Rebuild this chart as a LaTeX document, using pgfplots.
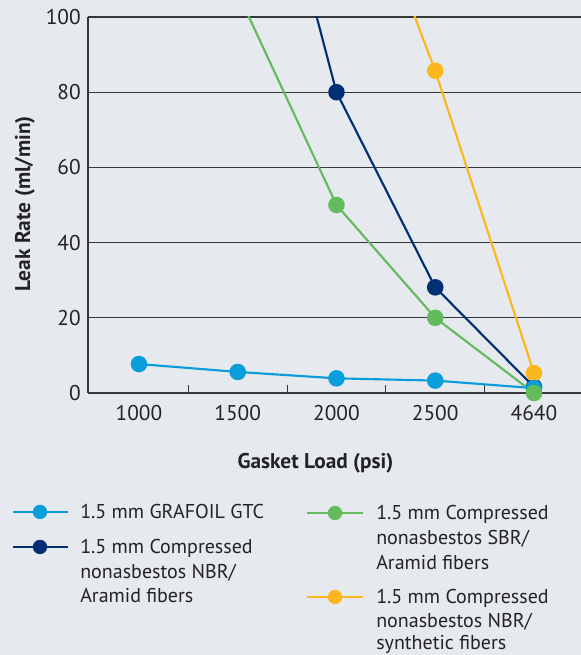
\documentclass[border=0pt]{standalone}
\usepackage{fontspec}
\setmainfont{PT Sans}
\usepackage{pgfplots}
\pgfplotsset{compat=1.18}

\definecolor{bgc}{RGB}{230,233,237}
\definecolor{txt}{RGB}{35,35,35}
\definecolor{gridc}{RGB}{55,55,55}
\definecolor{cblue}{RGB}{10,157,219}
\definecolor{cnavy}{RGB}{0,48,115}
\definecolor{cgreen}{RGB}{99,187,94}
\definecolor{corange}{RGB}{253,183,30}

\newcommand{\chartfont}{\fontsize{16bp}{18.4bp}\selectfont}
\newcommand{\legfont}{\fontsize{15bp}{18bp}\selectfont}

\begin{document}
\begin{tikzpicture}[font=\chartfont, text=txt]
  % background, in pixel units (y down)
  \begin{scope}[x=0.75bp, y=-0.75bp, yshift=491.25bp]
    \fill[bgc] (0,0) rectangle (581,655);
  \end{scope}
  \clip (0,0) rectangle (435.75bp,491.25bp);

  \begin{axis}[
    scale only axis,
    width=369.75bp, height=282bp,
    at={(66bp,196.5bp)}, anchor=south west,
    xmin=-0.516, xmax=4.476,
    ymin=0, ymax=100,
    axis x line*=bottom, axis y line*=left,
    axis line style={gridc, line width=0.8bp},
    xtick={0,1,2,3,4},
    xticklabels={1000,1500,2000,2500,4640},
    minor xtick={0.5,1.5,2.5,3.5},
    tick align=inside,
    major tick length=0pt,
    minor tick length=6bp,
    minor tick style={gridc, line width=0.8bp},
    ytick={0,20,40,60,80,100},
    ymajorgrids,
    grid style={gridc, line width=0.8bp},
    ticklabel style={font=\chartfont, text=txt},
    /pgf/number format/assume math mode=true,
    xticklabel style={yshift=-6bp},
    yticklabel style={xshift=-2bp},
    xlabel={\bfseries Gasket Load (psi)},
    ylabel={\bfseries Leak Rate (ml/min)},
    label style={font=\chartfont, text=txt},
    xlabel style={at={(axis description cs:0.4615,-0.186)}, anchor=center},
    ylabel style={at={(axis description cs:-0.128,0.503)}, anchor=center},
    every axis plot/.append style={line width=1.6bp, mark=*, mark size=5.4bp},
  ]
    % 1.5 mm Compressed nonasbestos NBR/Aramid fibers
    \addplot[cnavy, mark options={fill=cnavy, draw=cnavy}] coordinates {
      (1,180) (2,80) (3,28.1) (4,1.6)
    };
    % 1.5 mm Compressed nonasbestos NBR/synthetic fibers
    \addplot[corange, mark options={fill=corange, draw=corange}] coordinates {
      (2,155) (3,85.7) (4,5.3)
    };
    % 1.5 mm GRAFOIL GTC
    \addplot[cblue, mark options={fill=cblue, draw=cblue}] coordinates {
      (0,7.7) (1,5.6) (2,3.9) (3,3.3) (4,1.3)
    };
    % 1.5 mm Compressed nonasbestos SBR/Aramid fibers
    \addplot[cgreen, mark options={fill=cgreen, draw=cgreen}] coordinates {
      (1,106.4) (2,50) (3,20) (4,0)
    };
  \end{axis}

  % legend (pixel units, y down)
  \begin{scope}[x=0.75bp, y=-0.75bp, yshift=491.25bp,
                every node/.style={anchor=base west, inner sep=0pt, font=\legfont}]
    \draw[cblue, line width=2bp] (13,512) -- (68,512);
    \fill[cblue] (40,512) circle[radius=5.4bp];
    \node at (80,519) {1.5 mm GRAFOIL GTC};

    \draw[cnavy, line width=2bp] (13,547) -- (68,547);
    \fill[cnavy] (40,547) circle[radius=5.4bp];
    \node at (80,554) {1.5 mm Compressed};
    \node at (80,579) {nonasbestos NBR/};
    \node at (80,603) {Aramid fibers};

    \draw[cgreen, line width=2bp] (307,513) -- (363,513);
    \fill[cgreen] (335,513) circle[radius=5.4bp];
    \node at (376,520) {1.5 mm Compressed};
    \node at (376,545) {nonasbestos SBR/};
    \node at (376,570) {Aramid fibers};

    \draw[corange, line width=2bp] (307,597) -- (363,597);
    \fill[corange] (335,597) circle[radius=5.4bp];
    \node at (376,604) {1.5 mm Compressed};
    \node at (376,628) {nonasbestos NBR/};
    \node at (376,650) {synthetic fibers};
  \end{scope}
\end{tikzpicture}
\end{document}
